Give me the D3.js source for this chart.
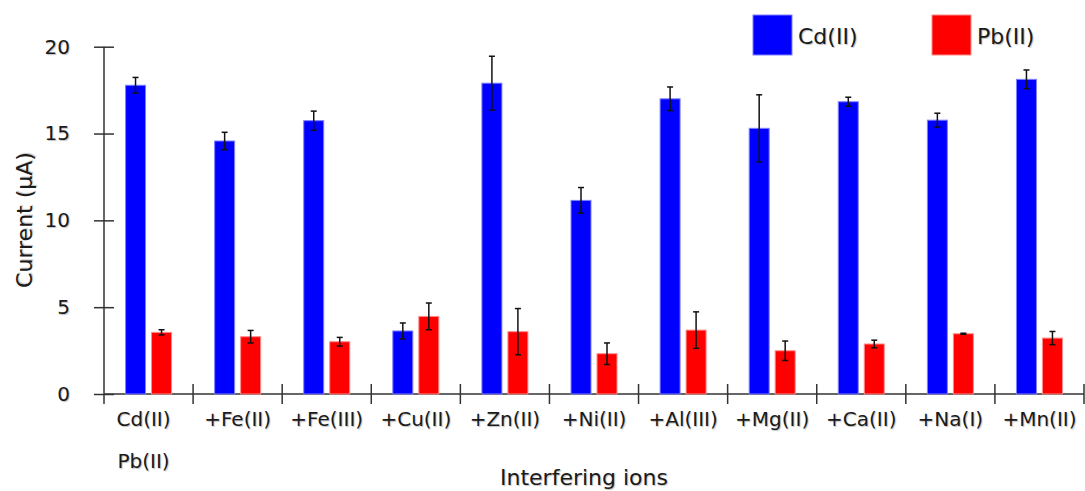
<!DOCTYPE html>
<html>
<head>
<meta charset="utf-8">
<script src="https://cdn.jsdelivr.net/npm/d3@7"></script>
<style>
  body { margin: 0; background: #fff; }
  text { font-family: "DejaVu Sans", sans-serif; fill: #1a1a1a; text-shadow: 1px 1px 1px rgba(0,0,0,0.25); }
</style>
</head>
<body>
<div id="chart"></div>
<script>
// data
const categories = ["Cd(II)", "+Fe(II)", "+Fe(III)", "+Cu(II)", "+Zn(II)", "+Ni(II)", "+Al(III)", "+Mg(II)", "+Ca(II)", "+Na(I)", "+Mn(II)"];
const cdValues = [17.78, 14.57, 15.74, 3.63, 17.9, 11.15, 17.0, 15.3, 16.83, 15.77, 18.12];
const cdErrors = [0.45, 0.5, 0.55, 0.46, 1.55, 0.74, 0.68, 1.93, 0.26, 0.4, 0.54];
const pbValues = [3.55, 3.3, 3.01, 4.47, 3.59, 2.32, 3.68, 2.49, 2.88, 3.47, 3.22];
const pbErrors = [0.15, 0.36, 0.25, 0.77, 1.33, 0.62, 1.05, 0.56, 0.22, 0.03, 0.38];
const yTicks = [0, 5, 10, 15, 20];
const seriesNames = ["Cd(II)", "Pb(II)"];
const seriesColors = ["#0000ff", "#ff0000"];
const seriesStroke = ["#8080ff", "#ff8c8c"];

const width = 1085, height = 491;
const margin = {left: 104, right: 1, top: 46.7, bottom: 97};

const svg = d3.select("#chart").append("svg")
    .attr("width", width)
    .attr("height", height);

const x = d3.scaleBand()
    .domain(categories)
    .range([margin.left, width - margin.right])
    .padding(0);

const y = d3.scaleLinear()
    .domain([0, 20])
    .range([height - margin.bottom, margin.top]);

const y0 = y(0);

// y axis with ticks crossing the line
const yAxis = svg.append("g")
    .attr("transform", `translate(${margin.left},0)`)
    .call(d3.axisLeft(y).tickValues(yTicks).tickSize(10).tickSizeOuter(0).tickPadding(24));
yAxis.select(".domain").attr("stroke", "#333").attr("stroke-width", 1.5)
    .attr("d", `M0,${y(20)}V${y0 + 10}`);
yAxis.selectAll(".tick line").attr("x1", 10).attr("stroke", "#333").attr("stroke-width", 1.5);
yAxis.selectAll(".tick text").style("font-size", "20px").attr("fill", "#1a1a1a");

// x axis line
svg.append("line")
    .attr("x1", margin.left).attr("x2", width - margin.right)
    .attr("y1", y0).attr("y2", y0)
    .attr("stroke", "#333").attr("stroke-width", 1.5);

// group boundary ticks
const bounds = categories.map(c => x(c) + x.step()).slice(0);
svg.selectAll(".xtick")
    .data(bounds)
    .enter().append("line")
    .attr("x1", d => d).attr("x2", d => d)
    .attr("y1", y0 - 10).attr("y2", y0 + 10)
    .attr("stroke", "#333").attr("stroke-width", 1.5);

// x labels
const labels = svg.selectAll(".xlabel")
    .data(categories)
    .enter().append("text")
    .attr("x", d => x(d) + x.bandwidth() / 2 - (d === "Cd(II)" ? 5 : 0))
    .attr("y", y0 + 32)
    .attr("text-anchor", "middle")
    .style("font-size", "20px")
    .text(d => d);
labels.filter(d => d === "Cd(II)").append("tspan")
    .attr("x", x("Cd(II)") + x.bandwidth() / 2 - 5)
    .attr("dy", 42)
    .text("Pb(II)");

// bars
const series = [
    {values: cdValues, errors: cdErrors, offset: -23},
    {values: pbValues, errors: pbErrors, offset: 3}
];
const barW = 20;

series.forEach((s, i) => {
    svg.selectAll(".bar" + i)
        .data(categories)
        .enter().append("rect")
        .attr("x", d => x(d) + x.bandwidth() / 2 + s.offset)
        .attr("y", (d, j) => y(s.values[j]))
        .attr("width", barW)
        .attr("height", (d, j) => y0 - y(s.values[j]))
        .attr("fill", seriesColors[i])
        .attr("stroke", seriesStroke[i])
        .attr("stroke-width", 1);

    // error bars
    const eb = svg.selectAll(".err" + i)
        .data(categories)
        .enter().append("g")
        .attr("stroke", "#111")
        .attr("stroke-width", 1.5);
    const cx = d => x(d) + x.bandwidth() / 2 + s.offset + barW / 2;
    eb.append("line")
        .attr("x1", cx).attr("x2", cx)
        .attr("y1", (d, j) => y(s.values[j] + s.errors[j]))
        .attr("y2", (d, j) => y(s.values[j] - s.errors[j]));
    eb.append("line")
        .attr("x1", d => cx(d) - 3).attr("x2", d => cx(d) + 3)
        .attr("y1", (d, j) => y(s.values[j] + s.errors[j]))
        .attr("y2", (d, j) => y(s.values[j] + s.errors[j]));
    eb.append("line")
        .attr("x1", d => cx(d) - 3).attr("x2", d => cx(d) + 3)
        .attr("y1", (d, j) => y(s.values[j] - s.errors[j]))
        .attr("y2", (d, j) => y(s.values[j] - s.errors[j]));
});

// axis titles
svg.append("text")
    .attr("transform", `translate(32,${220}) rotate(-90)`)
    .attr("text-anchor", "middle")
    .style("font-size", "22px")
    .text("Current (μA)");

svg.append("text")
    .attr("x", 584)
    .attr("y", 485)
    .attr("text-anchor", "middle")
    .style("font-size", "22px")
    .text("Interfering ions");

// legend
const legendX = [753, 932];
seriesNames.forEach((name, i) => {
    svg.append("rect")
        .attr("x", legendX[i]).attr("y", 15)
        .attr("width", 39).attr("height", 40)
        .attr("fill", seriesColors[i])
        .attr("stroke", seriesStroke[i]);
    svg.append("text")
        .attr("x", legendX[i] + 45)
        .attr("y", 44)
        .style("font-size", "22px")
        .text(name);
});
</script>
</body>
</html>
